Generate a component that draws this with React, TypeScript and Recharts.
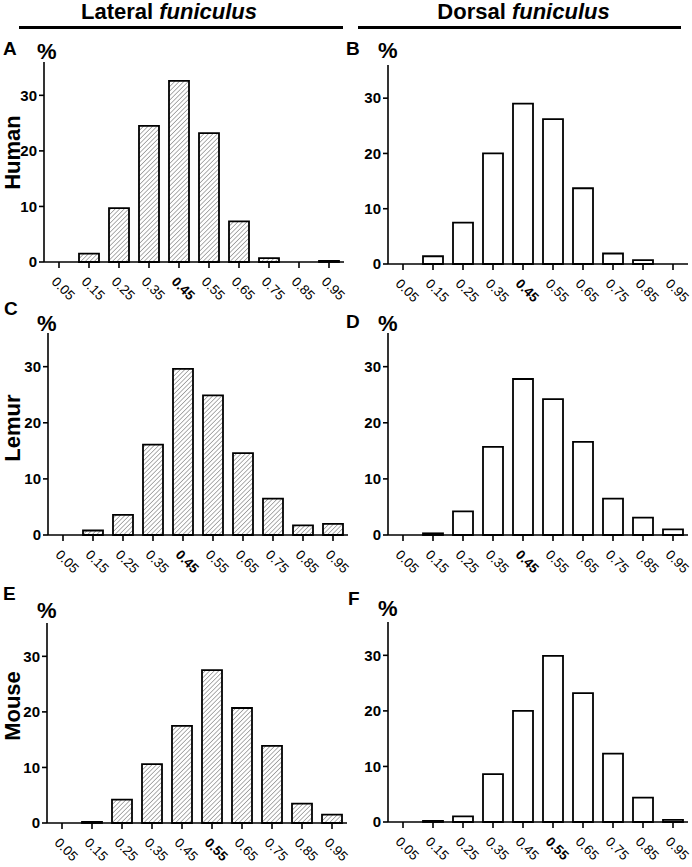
import React from "react";
import { BarChart, Bar, XAxis, YAxis } from "recharts";

const categories = ["0.05", "0.15", "0.25", "0.35", "0.45", "0.55", "0.65", "0.75", "0.85", "0.95"];
const yTicks = [0, 10, 20, 30];

const humanLateral = [0, 1.5, 9.7, 24.5, 32.6, 23.2, 7.3, 0.7, 0, 0.2];
const humanDorsal = [0, 1.4, 7.5, 20.0, 29.0, 26.2, 13.7, 1.9, 0.7, 0];
const lemurLateral = [0, 0.8, 3.6, 16.1, 29.6, 24.9, 14.6, 6.5, 1.7, 2.0];
const lemurDorsal = [0, 0.3, 4.2, 15.7, 27.8, 24.2, 16.6, 6.5, 3.1, 1.0];
const mouseLateral = [0, 0.2, 4.2, 10.6, 17.5, 27.5, 20.7, 13.9, 3.5, 1.5];
const mouseDorsal = [0, 0.2, 1.0, 8.6, 20.0, 29.9, 23.2, 12.3, 4.4, 0.4];

const FONT = "'Liberation Sans', Arial, Helvetica, sans-serif";

const toRows = (vals: number[]) => categories.map((c, i) => ({ bin: c, value: vals[i] }));

const XTick = (props: any) => {
  const { x, y, payload, boldLabel } = props;
  const isBold = payload.value === boldLabel;
  return (
    <g transform={`translate(${x},${y + 14})`}>
      <text
        transform="rotate(45)"
        x={-7}
        y={0}
        dy="0.35em"
        textAnchor="start"
        fontSize={13.5}
        fontFamily={FONT}
        fontWeight={isBold ? "bold" : "normal"}
        fill="#000"
      >
        {payload.value}
      </text>
    </g>
  );
};

type PanelProps = {
  x0: number;
  plotLeft: number;
  plotTop: number;
  plotBottom: number;
  values: number[];
  hatched: boolean;
  boldLabel: string;
};

const Panel = ({ x0, plotLeft, plotTop, plotBottom, values, hatched, boldLabel }: PanelProps) => {
  const topMargin = 10;
  const xAxisH = 55;
  const yAxisW = plotLeft - x0;
  const plotH = plotBottom - plotTop;
  const width = yAxisW + 300 + 4;
  const height = topMargin + plotH + xAxisH;
  return (
    <div style={{ position: "absolute", left: x0, top: plotTop - topMargin }}>
      <BarChart
        width={width}
        height={height}
        data={toRows(values)}
        margin={{ top: topMargin, right: 4, bottom: 0, left: 0 }}
        barSize={20}
      >
        <XAxis
          dataKey="bin"
          height={xAxisH}
          interval={0}
          tickSize={6}
          axisLine={{ stroke: "#000", strokeWidth: 1.6 }}
          tickLine={{ stroke: "#000", strokeWidth: 1.6 }}
          tick={(p: any) => <XTick {...p} boldLabel={boldLabel} />}
        />
        <YAxis
          width={yAxisW}
          domain={[0, 36]}
          ticks={yTicks}
          interval={0}
          tickSize={5}
          axisLine={{ stroke: "#000", strokeWidth: 1.6 }}
          tickLine={{ stroke: "#000", strokeWidth: 1.6 }}
          tick={{ fill: "#000", fontSize: 15, fontWeight: "bold", fontFamily: FONT }}
        />
        <Bar
          dataKey="value"
          fill={hatched ? "url(#hatch)" : "#ffffff"}
          stroke="#000"
          strokeWidth={1.8}
          isAnimationActive={false}
        />
      </BarChart>
    </div>
  );
};

const letterStyle = { fontFamily: FONT, fontWeight: "bold" as const, fill: "#000" };

export default function App() {
  return (
    <div style={{ position: "absolute", left: 0, top: 0, width: 692, height: 867, background: "#fff", overflow: "hidden" }}>
      <style>{`.recharts-surface { overflow: visible; } .recharts-wrapper { overflow: visible; }`}</style>
      <Panel x0={0} plotLeft={44} plotTop={62} plotBottom={262} values={humanLateral} hatched boldLabel="0.45" />
      <Panel x0={346} plotLeft={388} plotTop={65} plotBottom={264} values={humanDorsal} hatched={false} boldLabel="0.45" />
      <Panel x0={0} plotLeft={48} plotTop={333} plotBottom={535} values={lemurLateral} hatched boldLabel="0.45" />
      <Panel x0={346} plotLeft={388} plotTop={333} plotBottom={535} values={lemurDorsal} hatched={false} boldLabel="0.45" />
      <Panel x0={0} plotLeft={47} plotTop={623} plotBottom={823} values={mouseLateral} hatched boldLabel="0.55" />
      <Panel x0={346} plotLeft={388} plotTop={622} plotBottom={822} values={mouseDorsal} hatched={false} boldLabel="0.55" />
      <svg
        width={692}
        height={867}
        style={{ position: "absolute", left: 0, top: 0, pointerEvents: "none" }}
      >
        <defs>
          <pattern id="hatch" patternUnits="userSpaceOnUse" width={3.2} height={3.2} patternTransform="rotate(45)">
            <rect width={3.2} height={3.2} fill="#ffffff" />
            <line x1={0} y1={0} x2={0} y2={3.2} stroke="#7a7a7a" strokeWidth={1.2} />
          </pattern>
        </defs>
        <text x={169} y={18.5} textAnchor="middle" fontSize={22} {...letterStyle}>
          Lateral <tspan fontStyle="italic">funiculus</tspan>
        </text>
        <text x={523.5} y={18.5} textAnchor="middle" fontSize={22} {...letterStyle}>
          Dorsal <tspan fontStyle="italic">funiculus</tspan>
        </text>
        <line x1={19} y1={27.5} x2={343} y2={27.5} stroke="#000" strokeWidth={3} />
        <line x1={358} y1={27.5} x2={681} y2={27.5} stroke="#000" strokeWidth={3} />

        <text x={3} y={55} fontSize={19} {...letterStyle}>A</text>
        <text x={37} y={59} fontSize={22} {...letterStyle}>%</text>
        <text x={346} y={55} fontSize={19} {...letterStyle}>B</text>
        <text x={378} y={58} fontSize={22} {...letterStyle}>%</text>

        <text x={4} y={315} fontSize={19} {...letterStyle}>C</text>
        <text x={37} y={331} fontSize={22} {...letterStyle}>%</text>
        <text x={346} y={328} fontSize={19} {...letterStyle}>D</text>
        <text x={378} y={331} fontSize={22} {...letterStyle}>%</text>

        <text x={3} y={600} fontSize={19} {...letterStyle}>E</text>
        <text x={37} y={618} fontSize={22} {...letterStyle}>%</text>
        <text x={348} y={605} fontSize={19} {...letterStyle}>F</text>
        <text x={378} y={616} fontSize={22} {...letterStyle}>%</text>

        <text transform="translate(20,152.5) rotate(-90)" textAnchor="middle" fontSize={22} {...letterStyle}>Human</text>
        <text transform="translate(20,428) rotate(-90)" textAnchor="middle" fontSize={22} {...letterStyle}>Lemur</text>
        <text transform="translate(20,706) rotate(-90)" textAnchor="middle" fontSize={22} {...letterStyle}>Mouse</text>
      </svg>
    </div>
  );
}
